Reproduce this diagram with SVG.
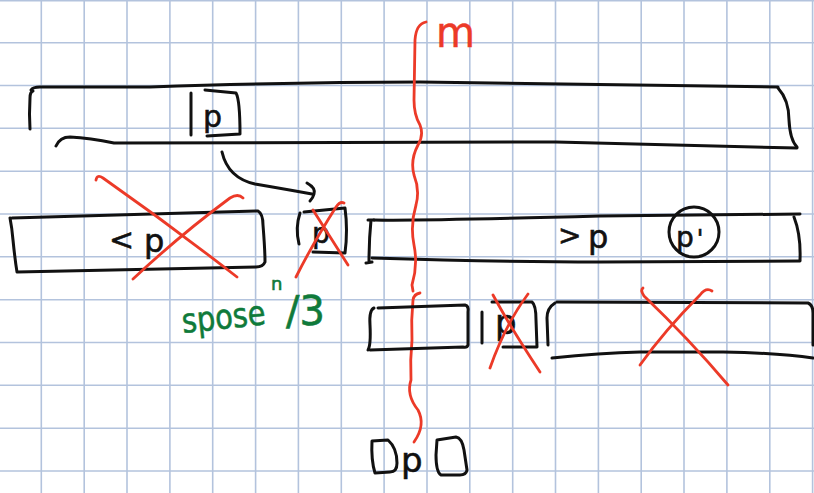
<svg xmlns="http://www.w3.org/2000/svg" width="814" height="493" viewBox="0 0 814 493">
<style>
.grid line{stroke:#b3c3dd;stroke-width:1.6}
.ink{fill:none;stroke:#111;stroke-width:3;stroke-linecap:round;stroke-linejoin:round}
.red{fill:none;stroke:#ec3a28;stroke-width:2.8;stroke-linecap:round;stroke-linejoin:round}
.t{font-family:"DejaVu Sans","Liberation Sans",sans-serif;fill:#111;stroke:#111;stroke-width:0.6}
.rt{font-family:"DejaVu Sans","Liberation Sans",sans-serif;fill:#ec3a28;stroke:#ec3a28;stroke-width:0.5}
.gt{font-family:"DejaVu Sans","Liberation Sans",sans-serif;fill:#0f7a3a;stroke:#0f7a3a;stroke-width:0.6}
</style>
<rect width="814" height="493" fill="#fff"/>
<g class="grid" id="grid">
<line x1="41.3" y1="0" x2="41.3" y2="493"/><line x1="84.2" y1="0" x2="84.2" y2="493"/><line x1="127" y1="0" x2="127" y2="493"/><line x1="169.9" y1="0" x2="169.9" y2="493"/><line x1="212.7" y1="0" x2="212.7" y2="493"/><line x1="255.6" y1="0" x2="255.6" y2="493"/><line x1="298.4" y1="0" x2="298.4" y2="493"/><line x1="341.3" y1="0" x2="341.3" y2="493"/><line x1="384.1" y1="0" x2="384.1" y2="493"/><line x1="427" y1="0" x2="427" y2="493"/><line x1="469.8" y1="0" x2="469.8" y2="493"/><line x1="512.7" y1="0" x2="512.7" y2="493"/><line x1="555.5" y1="0" x2="555.5" y2="493"/><line x1="598.4" y1="0" x2="598.4" y2="493"/><line x1="641.2" y1="0" x2="641.2" y2="493"/><line x1="684" y1="0" x2="684" y2="493"/><line x1="726.9" y1="0" x2="726.9" y2="493"/><line x1="769.8" y1="0" x2="769.8" y2="493"/><line x1="812.6" y1="0" x2="812.6" y2="493"/>
<line x1="0" y1="0.6" x2="814" y2="0.6"/><line x1="0" y1="42.7" x2="814" y2="42.7"/><line x1="0" y1="85.5" x2="814" y2="85.5"/><line x1="0" y1="128.3" x2="814" y2="128.3"/><line x1="0" y1="171.2" x2="814" y2="171.2"/><line x1="0" y1="214" x2="814" y2="214"/><line x1="0" y1="256.8" x2="814" y2="256.8"/><line x1="0" y1="299.7" x2="814" y2="299.7"/><line x1="0" y1="342.5" x2="814" y2="342.5"/><line x1="0" y1="385.3" x2="814" y2="385.3"/><line x1="0" y1="428.2" x2="814" y2="428.2"/><line x1="0" y1="471" x2="814" y2="471"/>
</g>

<g id="list">
<path class="ink" d="M33,91 Q30,92 30,98 Q29,114 30,129"/>
<path class="ink" d="M31,90 Q33,87 40,87 L150,87 Q300,82 420,82 Q600,84 778,87"/>
<path class="ink" d="M778,88 Q789,100 789,120 Q790,140 797,147"/>
<path class="ink" d="M56,146 Q60,137 70,137 Q90,138 114,143 L556,142 Q700,146 797,148"/>
<path class="ink" d="M191,93 L191,135"/>
<path class="ink" d="M205,90 L236,93 Q240,100 240,134 L207,136"/>
<text class="t" x="203" y="127" font-size="30">p</text>
</g>

<g id="connectors">
<path class="ink" d="M222,152 Q228,178 255,184 Q290,190 312,194"/>
<path class="ink" d="M307,183 Q316,188 314,194 Q313,198 310,201"/>
</g>

<g id="less">
<path class="ink" d="M12,218 L258,211 Q263,214 263,225 Q265,250 265,262 Q263,267 256,267 L17,272 Q15,260 13,240 Q12,228 10,218"/>
<text class="t" font-size="30"><tspan x="109" y="250">&lt;</tspan><tspan x="144" y="252" font-size="32">p</tspan></text>
<path class="red" d="M96,180 Q97,174 103,178 Q170,225 237,277"/>
<path class="red" d="M243,198 Q238,193 230,198 Q180,235 133,279"/>
</g>

<g id="pivot">
<path class="ink" d="M300,213 Q295,228 299,244"/>
<path class="ink" d="M304,212 L345,208 Q348,230 345,253 L313,252"/>
<text class="t" x="312" y="243" font-size="28">p</text>
<path class="red" d="M344,203 Q340,201 336,207 Q312,245 296,277"/>
<path class="red" d="M313,210 Q332,240 348,265"/>
</g>

<g id="greater">
<path class="ink" d="M368,220 L374,220 M371,220 Q369,240 369,262 M366,263 L372,262"/>
<path class="ink" d="M374,220 Q420,221 600,216 L800,214"/>
<path class="ink" d="M794,217 Q801,235 800,260"/>
<path class="ink" d="M372,258 Q500,262 600,262 L800,261"/>
<text class="t" font-size="28"><tspan x="558" y="245">&gt;</tspan><tspan x="588" y="248" font-size="32">p</tspan></text>
<ellipse cx="694" cy="232" rx="25" ry="25" class="ink"/>
<text class="t" x="676" y="247" font-size="28">p<tspan dx="3" font-size="24">'</tspan></text>
</g>

<g id="divider">
<path class="red" d="M426,22 Q416,24 415,40 L414,100 Q414,115 420,125 Q424,135 418,145 Q410,160 414,175 Q420,190 416,205 Q410,225 414,245 Q418,265 412,285 L413,291"/>
<path class="red" d="M420,293 Q414,294 413,300 Q411,320 412,340 Q410,360 411,380 Q406,395 418,410 Q426,425 414,442"/>
<text class="rt" x="436" y="47" font-size="42" textLength="39" lengthAdjust="spacingAndGlyphs">m</text>
</g>

<g id="note">
<text class="gt" x="183" y="333" font-size="34" textLength="84" lengthAdjust="spacingAndGlyphs" transform="rotate(-6 183 333)">spose</text>
<text class="gt" x="271" y="290" font-size="18">n</text>
<text class="gt" x="286" y="325" font-size="40">/3</text>
</g>

<g id="less2">
<path class="ink" d="M374,308 Q369,310 370,325 Q371,345 368,350"/>
<path class="ink" d="M378,308 L465,305 Q469,306 468,312 L468,345 Q467,348 463,347 L370,350"/>
</g>

<g id="pivot2">
<path class="ink" d="M482,312 L482,343"/>
<path class="ink" d="M492,302 L532,302 Q536,305 536,320 L537,347 L503,347"/>
<text class="t" x="495" y="334" font-size="34">p</text>
<path class="red" d="M493,295 Q512,330 540,372"/>
<path class="red" d="M528,294 Q505,325 490,368"/>
</g>

<g id="greater2">
<path class="ink" d="M555,303 Q547,308 547,318 L548,345"/>
<path class="ink" d="M557,302 L808,303 Q813,305 813,313 L813,345"/>
<path class="ink" d="M552,358 Q600,353 640,352 L723,352 Q780,353 813,358"/>
<path class="red" d="M643,288 Q640,290 644,296 Q690,340 728,385"/>
<path class="red" d="M712,291 Q706,287 700,295 Q665,330 640,365"/>
</g>

<g id="result">
<path class="ink" d="M372,441 L388,440 Q397,448 397,463 Q397,472 390,472 L375,473 Q371,460 372,441 Z"/>
<text class="t" x="401" y="472" font-size="34">p</text>
<path class="ink" d="M437,440 L456,437 Q462,438 464,450 L467,470 Q466,475 460,475 L441,475 Q436,472 436,455 Z"/>
</g>
</svg>
